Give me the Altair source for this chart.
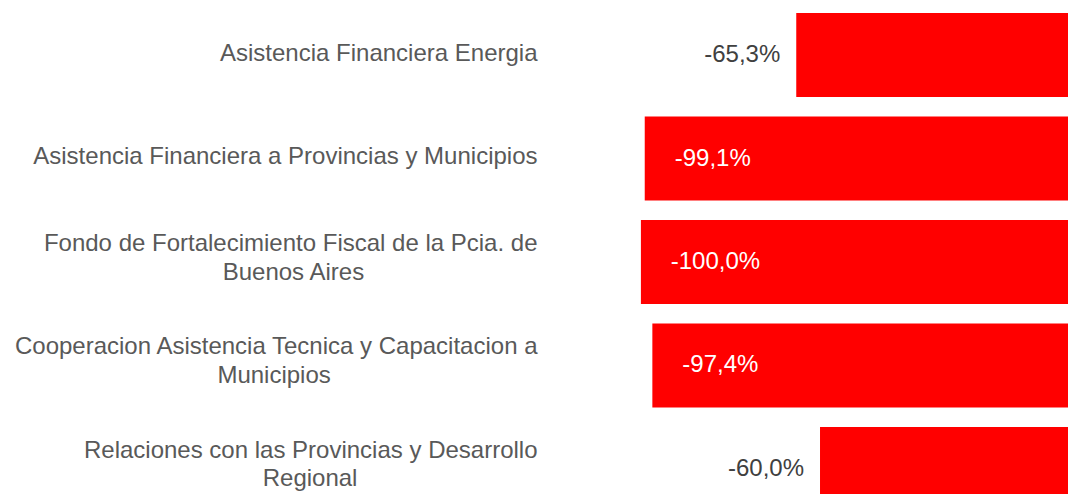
import altair as alt
import pandas as pd

# ---- data ----
categories = [
    "Asistencia Financiera Energia",
    "Asistencia Financiera a Provincias y Municipios",
    "Fondo de Fortalecimiento Fiscal de la Pcia. de\nBuenos Aires",
    "Cooperacion Asistencia Tecnica y Capacitacion a\nMunicipios",
    "Relaciones con las Provincias y Desarrollo\nRegional",
]
values = [-65.3, -99.1, -100.0, -97.4, -60.0]

# non-breaking spaces (closed by a zero-width space so they are not trimmed)
# used to visually centre the 2nd line under the 1st
NB = "\u00a0"
ZW = "\u200b"
second_line_pad = {2: 26, 3: 31, 4: 27}

display = []
for i, c in enumerate(categories):
    if "\n" in c:
        a, b = c.split("\n")
        c = a + "\n" + b + NB * second_line_pad.get(i, 0) + ZW
    display.append(c)

df = pd.DataFrame({"cat": display, "value": values})

FONT = "Liberation Sans"
LABEL_GREY = "#595959"

y_enc = alt.Y(
    "cat:N",
    sort=display,
    title=None,
    scale=alt.Scale(range=[5, 503], paddingInner=0.1884, paddingOuter=0),
    axis=alt.Axis(
        domain=False,
        ticks=False,
        tickSize=0,
        grid=False,
        labelPadding=103.7,
        labelFontSize=24,
        labelFont=FONT,
        labelColor=LABEL_GREY,
        labelAlign="right",
        labelLimit=900,
        labelLineHeight=28.5,
        labelExpr="split(datum.label, '\\n')",
        labelOffset={"condition": {"test": "indexof(datum.value, '\\n') >= 0", "value": -18}, "value": -1.5},
    ),
)

x_scale = alt.Scale(domain=[-100, -4.68], zero=False, nice=False)

base = alt.Chart(df).transform_calculate(
    lbl="(datum.value < 0 ? '-' : '') + replace(format(abs(datum.value), '.1f'), '.', ',') + '%'"
)

bars = base.mark_bar(color="#FF0000", clip=True).encode(
    x=alt.X("value:Q", scale=x_scale, axis=None),
    x2=alt.datum(0),
    y=y_enc,
)

inside = base.transform_filter("datum.value < -90").mark_text(
    align="left", baseline="middle", dx=30, fontSize=24, font=FONT, color="white"
).encode(
    x=alt.X("value:Q", scale=x_scale, axis=None),
    y=alt.Y("cat:N", sort=display),
    text="lbl:N",
)

outside = base.transform_filter("datum.value >= -90").mark_text(
    align="right", baseline="middle", dx=-16, fontSize=24, font=FONT, color="#404040"
).encode(
    x=alt.X("value:Q", scale=x_scale, axis=None),
    y=alt.Y("cat:N", sort=display),
    text="lbl:N",
)

chart = (
    alt.layer(bars, inside, outside)
    .properties(
        width=427.3,
        height=486,
        background="white",
        autosize=alt.AutoSizeParams(type="none"),
        padding={"left": 632.7, "top": 0, "right": 0, "bottom": 0},
    )
    .configure_view(strokeWidth=0)
)

chart.save("out.html", embed_options={"renderer": "svg", "actions": False})
